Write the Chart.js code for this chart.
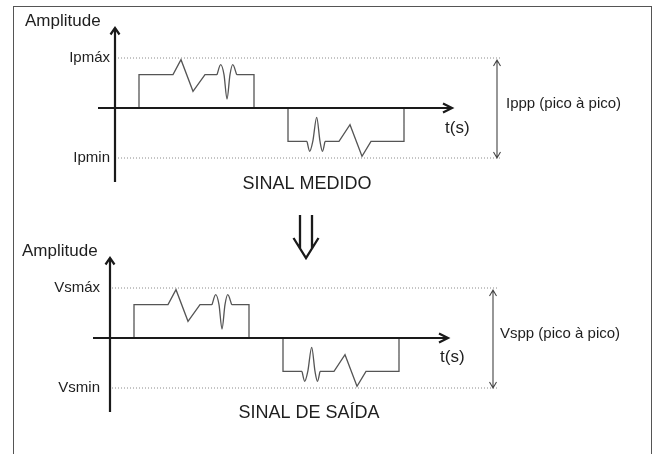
<!DOCTYPE html>
<html><head><meta charset="utf-8">
<script src="https://cdn.jsdelivr.net/npm/chart.js@4/dist/chart.umd.min.js"></script>
<style>
html,body{margin:0;padding:0;background:#fff;width:655px;height:454px;overflow:hidden;}
#frame{position:absolute;left:13px;top:6px;width:637px;height:460px;border:1px solid #555;border-bottom:none;}
#w1{position:absolute;left:0;top:0;width:655px;height:200px;}
#w2{position:absolute;left:0;top:200px;width:655px;height:254px;}
</style></head><body>
<div id="frame"></div>
<div id="w1"><canvas id="c1"></canvas></div>
<div id="w2"><canvas id="c2"></canvas></div>
<script>
// ---- signal data (time units, amplitude units) ----
const posPulseT = [2.4, 2.4, 5.8, 6.6, 7.8, 9.0, 10.2];
const posPulseA = [0, 1, 1, 1.45, 0.5, 1, 1];
const posRingT  = [10.2, 10.57, 10.9, 11.2, 11.5, 11.77, 12.17];
const posRingA  = [1, 1.3, 1.0, 0.27, 1.0, 1.3, 1];
const posTailT  = [12.17, 13.9, 13.9];
const posTailA  = [1, 1, 0];
const negHeadT  = [17.3, 17.3, 19.2];
const negHeadA  = [0, -1, -1];
const negRingT  = [19.2, 19.47, 19.78, 20.17, 20.5, 20.75, 21.0];
const negRingA  = [-1, -1.3, -1.0, -0.28, -1.0, -1.3, -1];
const negPulseT = [21.0, 22.4, 23.5, 24.7, 25.6, 28.9, 28.9];
const negPulseA = [-1, -1, -0.5, -1.45, -1, -1, 0];
const peakLevels = [1.5, -1.5];
const measuredLabels = ['Ipmáx', 'Ipmin', 'Ippp (pico à pico)', 'SINAL MEDIDO'];
const outputLabels   = ['Vsmáx', 'Vsmin', 'Vspp (pico à pico)', 'SINAL DE SAÍDA'];
const axisTitles = ['Amplitude', 't(s)'];

const FONT = '"Liberation Sans", Arial, Helvetica, sans-serif';

function line(t, a, extra) {
  return Object.assign({
    data: t.map((x, i) => ({x: x, y: a[i]})),
    borderColor: '#555', borderWidth: 1.3, pointRadius: 0, tension: 0, fill: false
  }, extra || {});
}

function makePanel(canvasId, labels, geo) {
  const dotted = {borderColor: '#8a8a8a', borderWidth: 1, borderDash: [1, 2]};
  const datasets = [
    line([geo.dotStart, geo.dotEnd], [peakLevels[0], peakLevels[0]], dotted),
    line([geo.dotStart, geo.dotEnd], [peakLevels[1], peakLevels[1]], dotted),
    line(posPulseT, posPulseA),
    line(posRingT, posRingA, {cubicInterpolationMode: 'monotone'}),
    line(posTailT, posTailA),
    line(negHeadT, negHeadA),
    line(negRingT, negRingA, {cubicInterpolationMode: 'monotone'}),
    line(negPulseT, negPulseA)
  ];
  const deco = {
    id: 'deco',
    afterDatasetsDraw(chart) {
      const ctx = chart.ctx, xs = chart.scales.x, ys = chart.scales.y;
      const X = v => xs.getPixelForValue(v), Y = v => ys.getPixelForValue(v);
      ctx.save();
      ctx.lineCap = 'butt'; ctx.lineJoin = 'miter';
      // main axes
      ctx.strokeStyle = '#1a1a1a'; ctx.lineWidth = 2.2;
      const x0 = X(0), y0 = Y(0);
      ctx.beginPath();
      ctx.moveTo(x0, Y(geo.vMin)); ctx.lineTo(x0, Y(geo.vMax));
      ctx.moveTo(X(geo.hMin), y0); ctx.lineTo(X(geo.hMax), y0);
      ctx.stroke();
      // arrowheads
      const vt = Y(geo.vMax), ht = X(geo.hMax);
      ctx.beginPath();
      ctx.moveTo(x0 - 4.5, vt + 6.5); ctx.lineTo(x0, vt); ctx.lineTo(x0 + 4.5, vt + 6.5);
      ctx.moveTo(ht - 9, y0 - 4.5); ctx.lineTo(ht, y0); ctx.lineTo(ht - 9, y0 + 4.5);
      ctx.stroke();
      // peak-to-peak double arrow
      ctx.strokeStyle = '#444'; ctx.lineWidth = 1.1;
      const px = X(geo.ppX), pt = Y(peakLevels[0]) + 2, pb = Y(peakLevels[1]);
      ctx.beginPath();
      ctx.moveTo(px, pt); ctx.lineTo(px, pb);
      ctx.moveTo(px - 3.5, pt + 6); ctx.lineTo(px, pt); ctx.lineTo(px + 3.5, pt + 6);
      ctx.moveTo(px - 3.5, pb - 6); ctx.lineTo(px, pb); ctx.lineTo(px + 3.5, pb - 6);
      ctx.stroke();
      // texts
      ctx.fillStyle = '#1e1e1e';
      ctx.textBaseline = 'middle';
      ctx.font = '17px ' + FONT;
      ctx.textAlign = 'left';
      ctx.fillText(axisTitles[0], X(geo.titleX), Y(geo.titleY));
      ctx.fillText(axisTitles[1], X(geo.tX), Y(geo.tY));
      ctx.font = '15px ' + FONT;
      ctx.textAlign = 'right';
      ctx.fillText(labels[0], X(geo.lblX), Y(peakLevels[0]));
      ctx.fillText(labels[1], X(geo.lblX), Y(peakLevels[1]));
      ctx.textAlign = 'left';
      ctx.fillText(labels[2], X(geo.ppTextX), Y(geo.ppTextY));
      ctx.font = '18px ' + FONT;
      ctx.textAlign = 'center';
      ctx.fillText(labels[3], X(geo.capX), Y(geo.capY));
      // transition arrow
      if (geo.down) {
        const dx = X(geo.down.x), dt = Y(geo.down.top), db = Y(geo.down.tip);
        ctx.strokeStyle = '#1a1a1a'; ctx.lineWidth = 2.3;
        ctx.beginPath();
        ctx.moveTo(dx - 6, dt); ctx.lineTo(dx - 6, db - 9);
        ctx.moveTo(dx + 6, dt); ctx.lineTo(dx + 6, db - 9);
        ctx.moveTo(dx - 12.5, db - 20); ctx.lineTo(dx, db); ctx.lineTo(dx + 12.5, db - 20);
        ctx.stroke();
      }
      ctx.restore();
    }
  };
  return new Chart(document.getElementById(canvasId), {
    type: 'line',
    data: {datasets: datasets},
    options: {
      responsive: true, maintainAspectRatio: false, animation: false, events: [],
      layout: {padding: 0},
      plugins: {legend: {display: false}, tooltip: {enabled: false}},
      scales: {
        x: {type: 'linear', display: false, min: geo.xMin, max: geo.xMax},
        y: {type: 'linear', display: false, min: geo.yMin, max: geo.yMax}
      }
    },
    plugins: [deco]
  });
}

makePanel('c1', measuredLabels, {
  xMin: -11.5, xMax: 54.0, yMin: -2.76, yMax: 3.24,
  vMin: -2.22, vMax: 2.4, hMin: -1.7, hMax: 33.7,
  dotStart: 0.3, dotEnd: 38.5, ppX: 38.2, ppTextX: 39.1, ppTextY: 0.12,
  lblX: -0.5, titleX: -9.0, titleY: 2.6, tX: 33.0, tY: -0.6,
  capX: 19.2, capY: -2.28
});
makePanel('c2', outputLabels, {
  xMin: -11.0, xMax: 54.5, yMin: -3.48, yMax: 4.14,
  vMin: -2.22, vMax: 2.4, hMin: -1.7, hMax: 33.8,
  dotStart: 0.2, dotEnd: 38.8, ppX: 38.3, ppTextX: 39.0, ppTextY: 0.12,
  lblX: -1.0, titleX: -8.8, titleY: 2.6, tX: 33.0, tY: -0.57,
  capX: 19.9, capY: -2.25,
  down: {x: 19.6, top: 3.69, tip: 2.4}
});
</script>
</body></html>
